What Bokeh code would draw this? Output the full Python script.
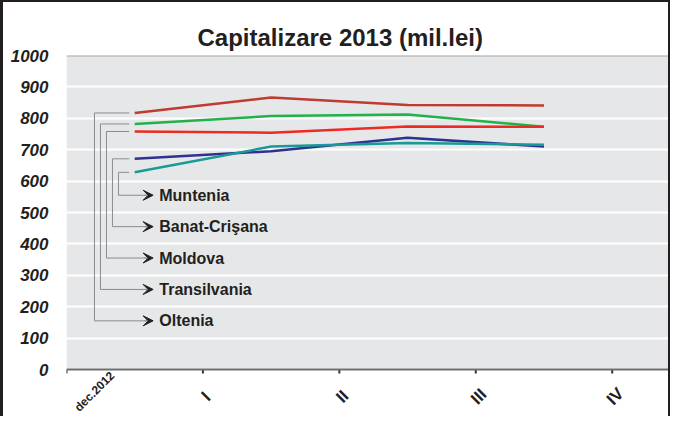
from math import pi
from bokeh.plotting import figure
from bokeh.models import Range1d, Span, Arrow, VeeHead, ColumnDataSource, BoxAnnotation
from bokeh.embed import file_html
from bokeh.resources import INLINE
from bokeh.core.properties import value

# ---- data ----
tick_labels = ["dec.2012", "I", "II", "III", "IV"]
y_ticks = [0, 100, 200, 300, 400, 500, 600, 700, 800, 900, 1000]
regions = ["Oltenia", "Transilvania", "Moldova", "Banat-Crişana", "Muntenia"]
oltenia = [817, 866, 842, 841]
transilvania = [782, 807, 812, 773]
moldova = [758, 754, 774, 773]
banat_crisana = [671, 695, 738, 710]
muntenia = [628, 710, 721, 716]
series = [oltenia, transilvania, moldova, banat_crisana, muntenia]
colors = ["#bf3a30", "#22b24c", "#ee2a24", "#2e3192", "#1a9a96"]

FONT = "Liberation Sans"
TXT = "#231f20"
PX = 1000 / 314.0          # data units per screen pixel (vertical)

# frame extends below zero so that the rotated period labels have room
p = figure(width=670, height=416,
           x_range=Range1d(0, 4.42), y_range=Range1d(-156, 1000),
           output_backend="svg", toolbar_location=None,
           min_border_left=63, min_border_right=4, min_border_top=53,
           min_border_bottom=0)
p.styles = {"border-left": "3px solid #231f20",
            "border-top": "2px solid #231f20",
            "border-right": "2px solid #231f20"}

p.background_fill_color = "white"
p.border_fill_color = "white"
p.outline_line_color = None

# plot-area background (0 .. 1000 only)
p.add_layout(BoxAnnotation(bottom=y_ticks[0], top=y_ticks[-1], fill_color="#e6e7e8",
                           fill_alpha=1, line_color=None, level="image"))

# title
p.title.text = "Capitalizare 2013  (mil.lei)"
p.title.align = "left"
p.title.offset = 131
p.title.text_font = FONT
p.title.text_font_size = "24px"
p.title.text_font_style = "bold"
p.title.text_color = TXT

# grid
p.xgrid.grid_line_color = None
p.ygrid.ticker = y_ticks
p.ygrid.grid_line_color = "white"
p.ygrid.grid_line_width = 2
p.add_layout(Span(location=y_ticks[-1], dimension="width", line_color="#a7a9ac", line_width=2))

# y axis
p.yaxis.ticker = y_ticks
p.yaxis.axis_line_color = None
p.yaxis.major_tick_line_color = None
p.yaxis.minor_tick_line_color = None
p.yaxis.major_label_standoff = 12
p.yaxis.major_label_text_font = FONT
p.yaxis.major_label_text_font_size = "17px"
p.yaxis.major_label_text_font_style = "bold italic"
p.yaxis.major_label_text_color = TXT

# x axis: base line, ticks and rotated labels at value 0
xt = list(range(len(tick_labels)))
p.xaxis.visible = False
p.add_layout(Span(location=y_ticks[0], dimension="width", line_color="#6d6e71", line_width=2))
p.segment(x0=xt, y0=[y_ticks[0]] * len(xt), x1=xt, y1=[y_ticks[0] - 4 * PX] * len(xt),
          line_color="#333333", line_width=2)
p.text(x=xt[:1], y=[y_ticks[0] - 22 * PX], text=tick_labels[:1], angle=pi / 4,
       x_offset=28, text_align="center", text_baseline="middle",
       text_font=value(FONT), text_font_style="bold", text_font_size="12px",
       text_color=TXT)
p.text(x=xt[1:], y=[y_ticks[0] - 27 * PX] * (len(xt) - 1), text=tick_labels[1:],
       angle=pi / 4, x_offset=3, text_align="center", text_baseline="middle",
       text_font=value(FONT), text_font_style="bold", text_font_size="17px",
       text_color=TXT)

# lines (points centred in the periods)
xs = [i + 0.5 for i in range(len(oltenia))]
for vals, col in zip(series, colors):
    p.line(xs, vals, line_color=col, line_width=2.5)

# callout legend
conn_xs, conn_ys = [], []
lab_y = []
for i, (name, vals) in enumerate(zip(regions, series)):
    xc = 0.205 + 0.044 * i
    ly = 155 + 100 * i
    lab_y.append(ly)
    conn_xs.append([0.46, xc, xc, 0.62])
    conn_ys.append([vals[0], vals[0], ly, ly])
p.multi_line(conn_xs, conn_ys, line_color="#8a8c8e", line_width=1)

arr_src = ColumnDataSource(dict(x0=[0.57] * len(regions), x1=[0.635] * len(regions),
                                y=lab_y))
p.add_layout(Arrow(end=VeeHead(size=10, fill_color=TXT, line_color=TXT),
                   x_start="x0", y_start="y", x_end="x1", y_end="y",
                   line_color="#8a8c8e", line_width=1, source=arr_src))
p.text(x=[0.68] * len(regions), y=lab_y, text=regions,
       text_baseline="middle", text_align="left",
       text_font=value(FONT), text_font_style="bold",
       text_font_size="16px", text_color=TXT)

open("out.html", "w").write(file_html(p, INLINE))
